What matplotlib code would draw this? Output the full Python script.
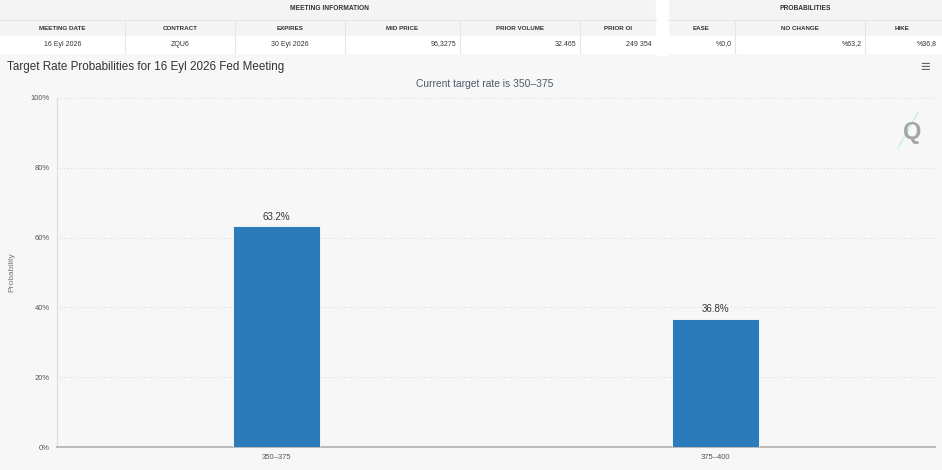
import matplotlib.pyplot as plt
import numpy as np

# data
categories = ['350\u2013375', '375\u2013400']
probs = [63.2, 36.8]
yticks = [0, 20, 40, 60, 80, 100]

meeting_cols = ['MEETING DATE', 'CONTRACT', 'EXPIRES', 'MID PRICE', 'PRIOR VOLUME', 'PRIOR OI']
meeting_vals = ['16 Eyl 2026', 'ZQU6', '30 Eyl 2026', '96,3275', '32.465', '249 354']
prob_cols = ['EASE', 'NO CHANGE', 'HIKE']
prob_vals = ['%0,0', '%63,2', '%36,8']

W, H = 942, 470
plt.rcParams['font.family'] = ['Liberation Sans', 'DejaVu Sans']
fig = plt.figure(figsize=(W / 100, H / 100), dpi=100)
fig.patch.set_facecolor('#f7f7f7')

# main chart
left, right, top, bottom = 57, 935, 98, 447
ax = fig.add_axes([left / W, 1 - bottom / H, (right - left) / W, (bottom - top) / H])
ax.set_facecolor('#f7f7f7')
x = np.arange(len(categories))
ax.bar(x, probs, width=0.2, color='#2b7bba', edgecolor='#ffffff', linewidth=0.6, zorder=3)
for xi, p in zip(x, probs):
    ax.text(xi, p + 1.2, '%.1f%%' % p, ha='center', va='bottom', fontsize=7,
            color='#333333', zorder=4)

ax.set_xlim(-0.5, 1.5)
ax.set_ylim(0, 100)
ax.set_xticks(x)
ax.set_xticklabels(categories, fontsize=5.5, color='#555555')
ax.set_yticks(yticks)
ax.set_yticklabels(['%d%%' % t for t in yticks], fontsize=5.5, color='#555555')
ax.tick_params(axis='both', length=0, pad=5)
ax.set_ylabel('Probability', fontsize=6, color='#777777')
ax.yaxis.set_label_coords(-42 / (right - left), 0.5)
ax.yaxis.grid(True, linestyle=(0, (1, 2)), color='#dddddd', linewidth=0.8, zorder=0)
for s in ['top', 'right']:
    ax.spines[s].set_visible(False)
ax.spines['left'].set_color('#dddddd')
ax.spines['bottom'].set_color('#bbbbbb')
ax.spines['bottom'].set_linewidth(1.5)

# tables and titles on a transparent full-figure overlay
ov = fig.add_axes([0, 0, 1, 1])
ov.patch.set_alpha(0)
ov.set_xlim(0, W)
ov.set_ylim(H, 0)
ov.axis('off')

ov.add_patch(plt.Rectangle((0, 0), 656, 36, color='#f4f4f4', zorder=0))
ov.add_patch(plt.Rectangle((0, 36), 656, 17, color='white', zorder=0))
ov.add_patch(plt.Rectangle((668, 0), 274, 36, color='#f4f4f4', zorder=0))
ov.add_patch(plt.Rectangle((668, 36), 274, 17, color='white', zorder=0))
ov.add_patch(plt.Rectangle((656, 0), 12, 55, color='white', zorder=0))
ov.plot([0, 656], [20, 20], color='#e6e6e6', lw=0.8)
ov.plot([668, 942], [20, 20], color='#e6e6e6', lw=0.8)

ov.text(330, 8, 'MEETING INFORMATION', ha='center', va='center', fontsize=4.8,
        fontweight='bold', color='#333333')
ov.text(805, 8, 'PROBABILITIES', ha='center', va='center', fontsize=4.8,
        fontweight='bold', color='#333333')

m_edges = [0, 125, 235, 345, 460, 580, 656]
for i, (c, v) in enumerate(zip(meeting_cols, meeting_vals)):
    x0, x1 = m_edges[i], m_edges[i + 1]
    ov.text((x0 + x1) / 2, 28, c, ha='center', va='center', fontsize=4.5,
            fontweight='bold', color='#333333')
    if i < 3:
        ov.text((x0 + x1) / 2, 44, v, ha='center', va='center', fontsize=5, color='#333333')
    else:
        ov.text(x1 - 4, 44, v, ha='right', va='center', fontsize=5, color='#333333')
    if i > 0:
        ov.plot([x0, x0], [20, 53], color='#e6e6e6', lw=0.8)

p_edges = [668, 735, 865, 940]
for i, (c, v) in enumerate(zip(prob_cols, prob_vals)):
    x0, x1 = p_edges[i], p_edges[i + 1]
    ov.text((x0 + x1) / 2, 28, c, ha='center', va='center', fontsize=4.5,
            fontweight='bold', color='#333333')
    ov.text(x1 - 3, 44, v, ha='right', va='center', fontsize=5, color='#333333')
    if i > 0:
        ov.plot([x0, x0], [20, 53], color='#e6e6e6', lw=0.8)

ov.text(7, 67, 'Target Rate Probabilities for 16 Eyl 2026 Fed Meeting', ha='left',
        va='center', fontsize=8.4, color='#333333')
ov.text(485, 84, 'Current target rate is 350\u2013375', ha='center', va='center',
        fontsize=7.4, color='#4f5a6a')
ov.text(925, 67, '\u2261', ha='center', va='center', fontsize=12, color='#666666')
ov.plot([898, 918], [148, 112], color='#bfeeee', lw=1.2, alpha=0.8)
ov.text(912, 132, 'Q', ha='center', va='center', fontsize=17, fontweight='bold',
        color='#8a8a8a', alpha=0.75)

fig.savefig('out.png', dpi=100, facecolor=fig.get_facecolor())
